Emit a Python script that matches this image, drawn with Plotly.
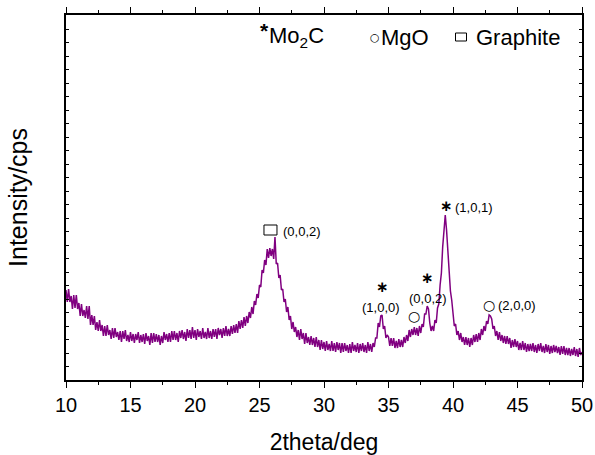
import numpy as np
import plotly.graph_objects as go

# 2theta grid (deg), 0.1 deg step from 10 to 50
two_theta = [round(10 + i * 0.1, 1) for i in range(401)]

# Intensity (arbitrary units)
intensity = [
    90, 78, 91, 78, 84, 71, 85, 72, 85, 71,
    77, 64, 76, 64, 70, 62, 74, 61, 74, 55,
    65, 55, 64, 50, 58, 49, 60, 49, 55, 44,
    54, 44, 55, 45, 50, 41, 52, 42, 52, 43,
    48, 40, 49, 38, 49, 41, 50, 39, 45, 38,
    48, 39, 46, 37, 46, 40, 48, 37, 45, 38,
    46, 36, 47, 39, 44, 35, 47, 37, 47, 38,
    46, 38, 45, 35, 44, 37, 48, 40, 46, 38,
    47, 38, 49, 40, 49, 40, 47, 38, 49, 42,
    50, 41, 48, 39, 51, 42, 50, 41, 53, 42,
    50, 40, 51, 43, 49, 41, 52, 42, 48, 41,
    52, 42, 49, 41, 51, 43, 51, 41, 52, 45,
    51, 42, 52, 44, 54, 44, 51, 44, 54, 46,
    55, 47, 56, 47, 59, 51, 60, 52, 63, 54,
    64, 57, 68, 62, 73, 66, 79, 75, 86, 82,
    95, 93, 110, 107, 120, 115, 131, 122, 132, 124,
    131, 121, 143, 116, 117, 102, 105, 90, 91, 78,
    81, 68, 73, 60, 64, 51, 58, 48, 53, 43,
    50, 40, 51, 41, 47, 36, 47, 37, 43, 35,
    44, 35, 42, 33, 43, 33, 40, 30, 40, 31,
    38, 29, 39, 30, 36, 29, 39, 29, 37, 28,
    38, 30, 37, 27, 37, 28, 37, 29, 35, 27,
    36, 27, 38, 29, 35, 28, 37, 27, 36, 29,
    37, 28, 35, 27, 38, 29, 36, 28, 37, 33,
    42, 42, 57, 53, 64, 65, 51, 54, 42, 45,
    43, 34, 42, 34, 42, 32, 39, 32, 41, 33,
    40, 33, 43, 37, 45, 39, 50, 43, 51, 45,
    53, 45, 52, 44, 54, 47, 56, 53, 66, 66,
    74, 71, 57, 49, 54, 49, 60, 57, 72, 76,
    95, 107, 133, 148, 165, 150, 127, 113, 89, 80,
    68, 54, 56, 45, 49, 40, 47, 38, 43, 35,
    43, 35, 42, 33, 42, 35, 45, 38, 46, 38,
    47, 40, 51, 45, 54, 49, 59, 56, 65, 64,
    61, 51, 54, 44, 49, 40, 48, 39, 45, 37,
    44, 36, 44, 36, 42, 32, 40, 33, 41, 33,
    39, 30, 37, 30, 39, 30, 37, 28, 36, 29,
    36, 29, 37, 28, 35, 27, 36, 29, 37, 28,
    34, 27, 36, 28, 35, 26, 34, 27, 35, 28,
    34, 27, 33, 25, 34, 26, 34, 25, 32, 25,
    32, 24, 31, 25, 33, 24, 31, 23, 32, 25,
    28,
]

x_ticks = [10, 15, 20, 25, 30, 35, 40, 45, 50]

FONT = "Liberation Sans, Arial, sans-serif"
SYM = "DejaVu Sans, sans-serif"
INK = "#000000"
LINE = "#800080"

fig = go.Figure()
fig.add_trace(go.Scatter(x=two_theta, y=intensity, mode="lines",
                         line=dict(color=LINE, width=1.5), showlegend=False,
                         hoverinfo="skip"))

ann = []
def txt(x, y, t, size=12, xanchor="center", yanchor="middle", family=FONT):
    ann.append(dict(x=x, y=y, xref="x", yref="y", text=t, showarrow=False,
                    xanchor=xanchor, yanchor=yanchor,
                    font=dict(family=family, size=size, color=INK)))

def box(xc, yc, w, h):
    fig.add_shape(type="rect", xref="x", yref="y",
                  xsizemode="pixel", ysizemode="pixel",
                  xanchor=xc, yanchor=yc,
                  x0=-w / 2, x1=w / 2, y0=-h / 2, y1=h / 2,
                  line=dict(color=INK, width=1), fillcolor="rgba(0,0,0,0)")

# key at top
txt(25.35, 350, "<b>*</b>", size=21)
txt(25.6, 343, "Mo<sub>2</sub>C", size=22, xanchor="left")
txt(33.95, 343, "○", size=11, family=SYM)
txt(34.3, 343, "MgO", size=22, xanchor="left")
box(40.62, 343, 11, 8)
txt(41.6, 343, "Graphite", size=22, xanchor="left")

# peak labels
box(25.85, 150, 13, 10)
txt(26.7, 149, "(0,0,2)", size=13, xanchor="left")
txt(34.52, 82, "<b>∗</b>", size=15, yanchor="bottom", family=SYM)
txt(34.42, 73, "(1,0,0)", size=13)
txt(37.0, 64, "○", size=14, family=SYM)
txt(38.01, 91, "<b>∗</b>", size=15, yanchor="bottom", family=SYM)
txt(38.09, 82, "(0,0,2)", size=13)
txt(39.51, 174, "<b>∗</b>", size=15, family=SYM)
txt(40.0, 173, "(1,0,1)", size=13, xanchor="left")
txt(42.81, 75, "○", size=14, family=SYM)
txt(43.3, 75, "(2,0,0)", size=13, xanchor="left")

fig.update_layout(
    width=595, height=455,
    margin=dict(l=66, r=13, t=15, b=75),
    paper_bgcolor="white", plot_bgcolor="white",
    font=dict(family=FONT, size=18, color=INK),
    annotations=ann,
    xaxis=dict(range=[10, 50], tickvals=x_ticks, ticks="outside", ticklen=6,
               tickwidth=1, tickcolor=INK, showline=True, linecolor=INK,
               linewidth=1.5, mirror="allticks", showgrid=False, zeroline=False,
               tickfont=dict(size=20), automargin=False,
               minor=dict(dtick=2.5, tick0=10, ticks="outside", ticklen=3,
                          tickcolor=INK),
               title=dict(text="2theta/deg", font=dict(size=23), standoff=28)),
    yaxis=dict(range=[0, 365], tick0=0, dtick=13.5, ticks="inside", ticklen=3,
               tickcolor=INK, showticklabels=False, showline=True,
               linecolor=INK, linewidth=1.5, mirror="allticks",
               showgrid=False, zeroline=False, automargin=False,
               title=dict(text="Intensity/cps", font=dict(size=25), standoff=30)),
)

fig.write_html("out.html")
